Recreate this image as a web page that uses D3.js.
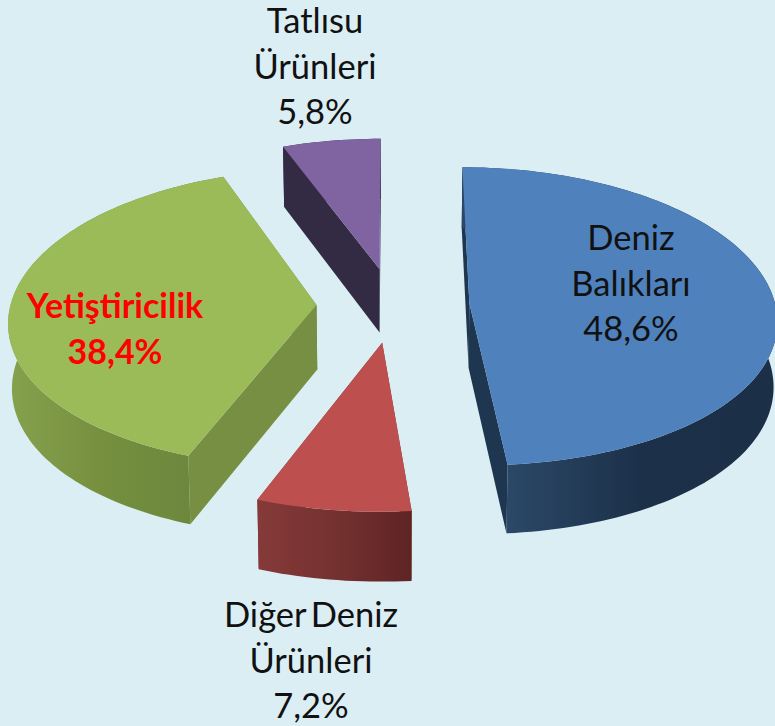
<!DOCTYPE html>
<html lang="tr"><head><meta charset="utf-8">
<script src="https://cdn.jsdelivr.net/npm/d3@7"></script>
<style>html,body{margin:0;padding:0;background:#dbeef4;overflow:hidden}svg{display:block}</style>
</head><body><div id="c"></div>
<script>
const categories = ["Deniz Balıkları","Diğer Deniz Ürünleri","Yetiştiricilik","Tatlısu Ürünleri"];
const shares = [48.6,7.2,38.4,5.8];
const labelLines = [["Deniz","Balıkları","48,6%"],["Diğer Deniz","Ürünleri","7,2%"],["Yetiştiricilik","38,4%"],["Tatlısu","Ürünleri","5,8%"]];

const W=775,H=726;
const topColors=["#4f81bd","#bd504e","#9bbb59","#8064a2"];
const cutColors=["#1f3650","#7d3433","#768f42","#332a43"];
const rimStops=[["#2b4867","#1c3049","#1b2f47"],["#853a39","#753130","#5e2424"],["#86a14e","#76903f","#6d873d"],["#332a43","#332a43","#332a43"]];
const labelAnchors=[[631,250],[311,627],[115,318],[315,33]];
const labelStyle=[{c:"#111",w:400},{c:"#111",w:400},{c:"#ff0000",w:700},{c:"#111",w:400}];

const cx=393,cy=305,R=306,RY=150,P=0.1,PNEAR=0.076,EXPLODE=0.25,DEPTH=64.5;
const project=(X,Y,down=0)=>{
  const k=1/(1+P*Y), ky=1/(1+(Y<0?PNEAR:P)*Y), d=down?DEPTH*Math.pow(k,0.6):0, sq=down?0.99:1;
  return [cx+(R*X*k)*sq, cy-RY*Y*ky+d];
};
const svg=d3.select("#c").append("svg").attr("width",W).attr("height",H).attr("viewBox",[0,0,W,H]);
svg.append("rect").attr("width",W).attr("height",H).attr("fill","#dbeef4");
const defs=svg.append("defs");
const pieGen=d3.pie().sort(null).value(d=>d);
const arcs=pieGen(shares);
const line=d3.line();

arcs.forEach((a,i)=>{
  const m=(a.startAngle+a.endAngle)/2;
  const ax=EXPLODE*Math.sin(m), ay=EXPLODE*Math.cos(m);
  const n=Math.max(8,Math.ceil((a.endAngle-a.startAngle)*40));
  const angles=d3.range(n+1).map(t=>a.startAngle+(a.endAngle-a.startAngle)*t/n);
  const rim=angles.map(t=>[ax+Math.sin(t),ay+Math.cos(t)]);
  const up=p=>project(p[0],p[1],0), dn=p=>project(p[0],p[1],1);
  const apex=[ax,ay];
  const g=svg.append("g").attr("class","slice");

  const gid="rim"+i;
  const stops=rimStops[i];
  const lg=defs.append("linearGradient").attr("id",gid);
  const front=rim.filter(p=>p[1]<ay+0.15);
  const xs=(front.length?front:rim).map(p=>up(p)[0]);
  lg.attr("gradientUnits","userSpaceOnUse").attr("x1",d3.min(xs)).attr("x2",d3.max(xs)).attr("y1",0).attr("y2",0);
  stops.forEach((s,j)=>lg.append("stop").attr("offset",j/(stops.length-1)).attr("stop-color",s));

  // cut faces first, outer band over them, top face last
  [rim[0],rim[rim.length-1]].forEach(p=>{
    g.append("path").attr("d",line([up(apex),up(p),dn(p),dn(apex)])+"Z").attr("fill",cutColors[i]);
  });
  g.append("path").attr("d",line([...rim.map(up),...rim.slice().reverse().map(dn)])+"Z").attr("fill",`url(#${gid})`);
  g.append("path").attr("d",line([up(apex),...rim.map(up)])+"Z").attr("fill",topColors[i]);
});

labelLines.forEach((ls,i)=>{
  const t=svg.append("text").attr("text-anchor","middle")
    .attr("font-family","Lato, 'Open Sans', sans-serif").attr("font-size",i==2?34:34.5)
    .attr("font-weight",labelStyle[i].w).attr("fill",labelStyle[i].c).attr("word-spacing",-4);
  ls.forEach((s,j)=>t.append("tspan").attr("x",labelAnchors[i][0]).attr("y",labelAnchors[i][1]+j*45.7).text(s));
});
</script></body></html>
